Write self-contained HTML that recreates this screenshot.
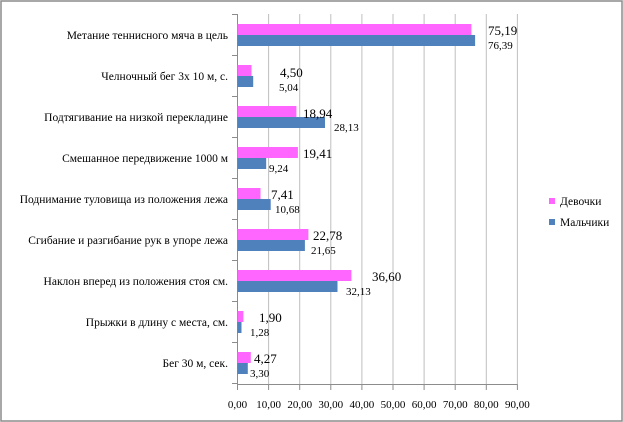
<!DOCTYPE html>
<html><head><meta charset="utf-8"><style>
html,body{margin:0;padding:0;background:#fff;}
svg{display:block;font-family:"Liberation Serif",serif;}
</style></head><body>
<svg width="623" height="422" viewBox="0 0 623 422">
<rect x="1" y="1" width="621" height="420" fill="#fff" stroke="#8c8c8c" stroke-width="1.5"/>
<g stroke="#bfbfbf" stroke-width="1">
<line x1="268.6" y1="14" x2="268.6" y2="384"/>
<line x1="299.7" y1="14" x2="299.7" y2="384"/>
<line x1="330.8" y1="14" x2="330.8" y2="384"/>
<line x1="361.9" y1="14" x2="361.9" y2="384"/>
<line x1="393" y1="14" x2="393" y2="384"/>
<line x1="424.1" y1="14" x2="424.1" y2="384"/>
<line x1="455.2" y1="14" x2="455.2" y2="384"/>
<line x1="486.3" y1="14" x2="486.3" y2="384"/>
<line x1="517.4" y1="14" x2="517.4" y2="384"/>
</g>
<g stroke="#8c8c8c">
<line x1="237.5" y1="14" x2="237.5" y2="384"/>
<line x1="237.5" y1="384.5" x2="517.4" y2="384.5"/>
<line x1="232" y1="14.5" x2="237.5" y2="14.5"/>
<line x1="232" y1="55.5" x2="237.5" y2="55.5"/>
<line x1="232" y1="96.5" x2="237.5" y2="96.5"/>
<line x1="232" y1="137.5" x2="237.5" y2="137.5"/>
<line x1="232" y1="178.5" x2="237.5" y2="178.5"/>
<line x1="232" y1="219.5" x2="237.5" y2="219.5"/>
<line x1="232" y1="260.5" x2="237.5" y2="260.5"/>
<line x1="232" y1="301.5" x2="237.5" y2="301.5"/>
<line x1="232" y1="342.5" x2="237.5" y2="342.5"/>
<line x1="232" y1="383.5" x2="237.5" y2="383.5"/>
<line x1="237.5" y1="384" x2="237.5" y2="390"/>
<line x1="268.6" y1="384" x2="268.6" y2="390"/>
<line x1="299.7" y1="384" x2="299.7" y2="390"/>
<line x1="330.8" y1="384" x2="330.8" y2="390"/>
<line x1="361.9" y1="384" x2="361.9" y2="390"/>
<line x1="393" y1="384" x2="393" y2="390"/>
<line x1="424.1" y1="384" x2="424.1" y2="390"/>
<line x1="455.2" y1="384" x2="455.2" y2="390"/>
<line x1="486.3" y1="384" x2="486.3" y2="390"/>
<line x1="517.4" y1="384" x2="517.4" y2="390"/>
</g>
<g fill="#ff66ff">
<rect x="237.5" y="24" width="233.9" height="11"/>
<rect x="237.5" y="65" width="14" height="11"/>
<rect x="237.5" y="106" width="58.9" height="11"/>
<rect x="237.5" y="147" width="60.4" height="11"/>
<rect x="237.5" y="188" width="23" height="11"/>
<rect x="237.5" y="229" width="70.9" height="11"/>
<rect x="237.5" y="270" width="113.9" height="11"/>
<rect x="237.5" y="311" width="5.9" height="11"/>
<rect x="237.5" y="352" width="13.3" height="11"/>
</g>
<g fill="#4f81bd">
<rect x="237.5" y="35" width="237.6" height="11"/>
<rect x="237.5" y="76" width="15.7" height="11"/>
<rect x="237.5" y="117" width="87.5" height="11"/>
<rect x="237.5" y="158" width="28.7" height="11"/>
<rect x="237.5" y="199" width="33.2" height="11"/>
<rect x="237.5" y="240" width="67.4" height="11"/>
<rect x="237.5" y="281" width="100" height="11"/>
<rect x="237.5" y="322" width="4" height="11"/>
<rect x="237.5" y="363" width="10.3" height="11"/>
</g>
<g font-size="13" fill="#000">
<text x="488" y="35">75,19</text>
<text x="280" y="77">4,50</text>
<text x="303" y="118">18,94</text>
<text x="303" y="158">19,41</text>
<text x="271" y="199">7,41</text>
<text x="313" y="240">22,78</text>
<text x="372" y="281">36,60</text>
<text x="259" y="322">1,90</text>
<text x="254" y="363">4,27</text>
</g>
<g font-size="11" fill="#000">
<text x="488" y="49">76,39</text>
<text x="279" y="91">5,04</text>
<text x="334" y="131">28,13</text>
<text x="269" y="172">9,24</text>
<text x="275" y="213">10,68</text>
<text x="311" y="254">21,65</text>
<text x="346" y="295">32,13</text>
<text x="250" y="336">1,28</text>
<text x="250" y="377">3,30</text>
</g>
<g font-size="11.5" fill="#000" text-anchor="end">
<text x="228" y="39">Метание теннисного мяча в цель</text>
<text x="228" y="80">Челночный бег 3х 10 м, с.</text>
<text x="228" y="121">Подтягивание на низкой перекладине</text>
<text x="228" y="162">Смешанное передвижение 1000 м</text>
<text x="228" y="203">Поднимание туловища из положения лежа</text>
<text x="228" y="244">Сгибание и разгибание рук в упоре лежа</text>
<text x="228" y="285">Наклон вперед из положения стоя см.</text>
<text x="228" y="326">Прыжки в длину с места, см.</text>
<text x="228" y="367">Бег 30 м, сек.</text>
</g>
<g font-size="11" fill="#000" text-anchor="middle">
<text x="237.5" y="408">0,00</text>
<text x="268.6" y="408">10,00</text>
<text x="299.7" y="408">20,00</text>
<text x="330.8" y="408">30,00</text>
<text x="361.9" y="408">40,00</text>
<text x="393" y="408">50,00</text>
<text x="424.1" y="408">60,00</text>
<text x="455.2" y="408">70,00</text>
<text x="486.3" y="408">80,00</text>
<text x="517.4" y="408">90,00</text>
</g>
<rect x="549" y="198" width="6" height="6" fill="#ff66ff"/>
<rect x="549" y="219" width="6" height="6" fill="#4f81bd"/>
<g font-size="11.5" fill="#000">
<text x="560" y="205">Девочки</text>
<text x="560" y="226">Мальчики</text>
</g>
</svg>
</body></html>
